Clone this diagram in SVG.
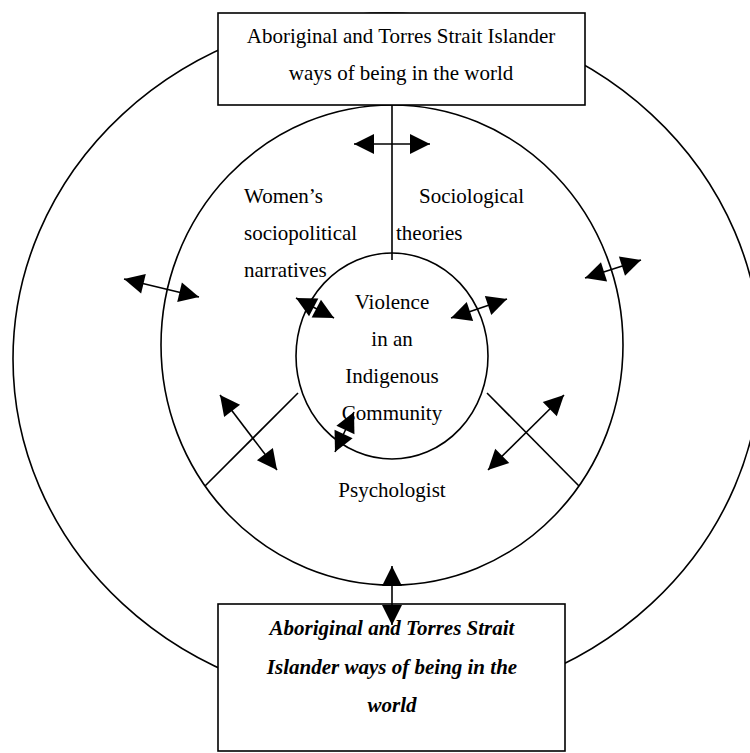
<svg xmlns="http://www.w3.org/2000/svg" width="750" height="753" viewBox="0 0 750 753">
<style>
.ring{fill:none;stroke:#000;stroke-width:1.6}
.box{fill:#fff;stroke:#000;stroke-width:1.6}
.ln{fill:none;stroke:#000;stroke-width:1.6}
.arr{fill:none;stroke:#000;stroke-width:1.6;marker-start:url(#head);marker-end:url(#head)}
text{font-family:"Liberation Serif","Times New Roman",serif;font-size:21px;fill:#000}
.c{text-anchor:middle}
.bi{font-weight:bold;font-style:italic}
</style>
<defs>
<marker id="head" markerUnits="userSpaceOnUse" markerWidth="21" markerHeight="21" refX="20" refY="10" orient="auto-start-reverse" overflow="visible">
<path d="M0,0 L20,10 L0,20 z" fill="#000"/>
</marker>
</defs>
<g id="rings">
<ellipse id="outer" class="ring" cx="387" cy="359" rx="374" ry="346"/>
<ellipse id="middle" class="ring" cx="392" cy="345" rx="231" ry="240"/>
<ellipse id="inner" class="ring" cx="392" cy="356" rx="96" ry="103"/>
</g>
<g id="top-box">
<rect class="box" x="218" y="13" width="367" height="92"/>
<text class="c" x="401" y="43">Aboriginal and Torres Strait Islander</text>
<text class="c" x="401" y="80">ways of being in the world</text>
</g>
<g id="bottom-box">
<rect class="box" x="218" y="604" width="347" height="147"/>
<text class="c bi" x="392" y="635">Aboriginal and Torres Strait</text>
<text class="c bi" x="392" y="674">Islander ways of being in the</text>
<text class="c bi" x="392" y="712">world</text>
</g>
<g id="connectors">
<line class="ln" x1="392" y1="105" x2="392" y2="260"/>
<line class="ln" x1="298" y1="393" x2="205" y2="486"/>
<line class="ln" x1="487" y1="393" x2="579" y2="486"/>
<line class="arr" x1="354" y1="144" x2="430" y2="144"/>
<line class="arr" x1="124" y1="279" x2="199" y2="297"/>
<line class="arr" x1="585" y1="278" x2="641" y2="260"/>
<line class="arr" x1="451" y1="318" x2="507" y2="299"/>
<line class="arr" x1="296" y1="298" x2="334" y2="318"/>
<line class="arr" x1="220" y1="395" x2="277" y2="470"/>
<line class="arr" x1="564" y1="395" x2="488" y2="470"/>
<line class="arr" x1="335" y1="452" x2="354" y2="412"/>
<line class="arr" x1="392" y1="566" x2="392" y2="625"/>
</g>
<g id="womens">
<text x="244" y="203">Women’s</text>
<text x="244" y="240">sociopolitical</text>
<text x="244" y="277">narratives</text>
</g>
<g id="sociological">
<text x="419" y="203">Sociological</text>
<text x="396" y="240">theories</text>
</g>
<g id="violence">
<text class="c" x="392" y="309">Violence</text>
<text class="c" x="392" y="346">in an</text>
<text class="c" x="392" y="383">Indigenous</text>
<text class="c" x="392" y="420">Community</text>
</g>
<g id="psychologist">
<text class="c" x="392" y="497">Psychologist</text>
</g>
</svg>
